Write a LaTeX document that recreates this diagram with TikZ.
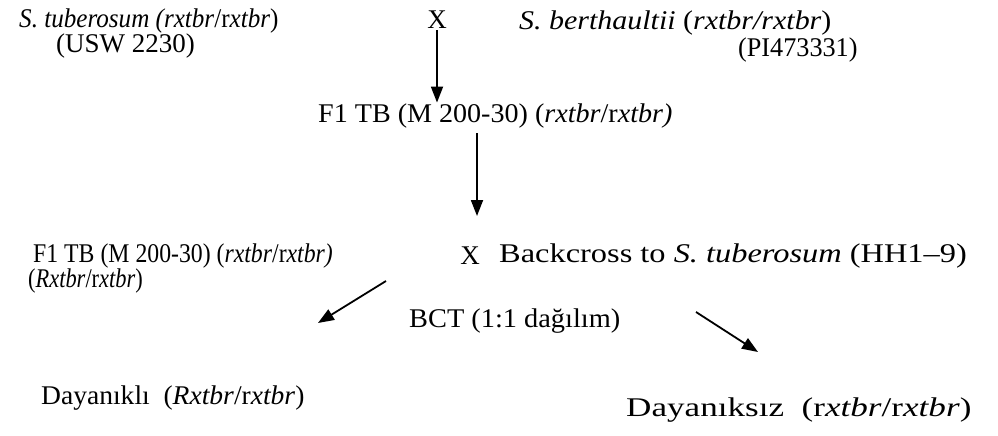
\documentclass[tikz,border=0pt]{standalone}
\usepackage{fontspec}
\setmainfont{Liberation Serif}
\usepackage{graphicx}
\usetikzlibrary{arrows.meta}

\newcommand{\hsc}[2]{\scalebox{#1}[1]{#2}}

\begin{document}
\begin{tikzpicture}[x=1pt, y=-1pt,
  txt/.style = {font=\fontsize{27}{32}\selectfont, inner sep=1pt},
  arr/.style = {line width=1.8pt, -{Triangle[length=16pt, width=12pt]}}]

	\useasboundingbox[fill=white] (0,0) rectangle (998,436);

	% parents
	\node[txt, anchor=west] (stub) at (18, 21) {\hsc{0.93}{\textit{S. tuberosum (rxtbr}/r\textit{xtbr})}};
	\node[txt, anchor=west] (usw) at (55, 46) {(USW 2230)};
	\node[txt] (cross1) at (437, 20) {X};
	\node[txt, anchor=west] (sber) at (518, 23) {\hsc{1.11}{\textit{S. berthaultii} (\textit{rxtbr/rxtbr})}};
	\node[txt, anchor=west] (pi) at (737, 50) {\hsc{0.97}{(PI473331)}};

	% F1
	\node[txt, anchor=west] (fone) at (317, 116) {\hsc{1.04}{F1 TB (M 200-30) (\textit{rxtbr}/r\textit{xtbr)}}};

	% backcross
	\node[txt, anchor=west] (fonel) at (32, 256) {\hsc{0.88}{F1 TB (M 200-30) (\textit{rxtbr}/r\textit{xtbr)}}};
	\node[txt, anchor=west] (rx) at (27, 281) {\hsc{0.83}{(\textit{Rxtbr}/r\textit{xtbr})}};
	\node[txt] (cross2) at (470, 256) {X};
	\node[txt, anchor=west] (back) at (498, 256) {\hsc{1.2}{Backcross to \textit{S. tuberosum} (HH1--9)}};
	\node[txt, anchor=west] (bct) at (408, 321) {\hsc{1.05}{BCT (1:1 dağılım)}};

	% offspring
	\node[txt, anchor=west] (res) at (40, 398) {\hsc{1.02}{Dayanıklı\ \ (\textit{Rxtbr}/r\textit{xtbr})}};
	\node[txt, anchor=west] (sus) at (625, 410) {\hsc{1.3}{Dayanıksız\ \ (r\textit{xtbr}/r\textit{xtbr})}};

	\coordinate (mid) at (477, 216);
	\coordinate (ls) at (386, 281);
	\coordinate (le) at (318, 323);
	\coordinate (rs) at (696, 312);
	\coordinate (re) at (758, 352);

	\draw[arr] (cross1) -- (cross1 |- fone.north);
	\draw[arr] (fone.south -| mid) ++(0,4) -- (mid);
	\draw[arr] (ls) -- (le);
	\draw[arr] (rs) -- (re);

\end{tikzpicture}
\end{document}
